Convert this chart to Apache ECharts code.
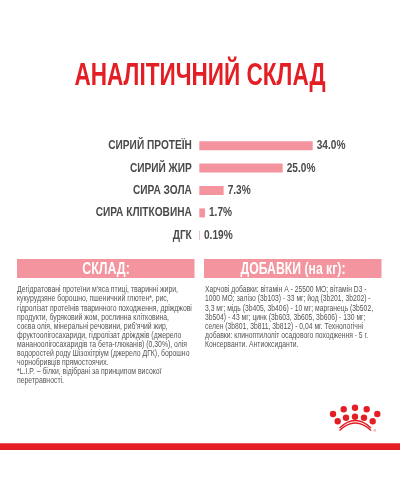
<!DOCTYPE html>
<html>
<head>
<meta charset="utf-8"/>
<title>Аналітичний склад</title>
<style>
    html, body { margin: 0; padding: 0; background: #fff; }
    #chart { width: 400px; height: 500px; }
</style>
</head>
<body>
<div id="chart"></div>
<script src="https://cdn.jsdelivr.net/npm/echarts@6/dist/echarts.min.js"></script>
<script>
var categories = ['СИРИЙ ПРОТЕЇН', 'СИРИЙ ЖИР', 'СИРА ЗОЛА', 'СИРА КЛІТКОВИНА', 'ДГК'];
var values = [34.0, 25.0, 7.3, 1.7, 0.19];
var valueLabels = ['34.0%', '25.0%', '7.3%', '1.7%', '0.19%'];

var leftLines = [
    "Дегідратовані протеїни м'яса птиці, тваринні жири,",
    'кукурудзяне борошно, пшеничний глютен*, рис,',
    'гідролізат протеїнів тваринного походження, дріжджові',
    'продукти, буряковий жом, рослинна клітковина,',
    "соєва олія, мінеральні речовини, риб'ячий жир,",
    'фруктоолігосахариди, гідролізат дріжджів (джерело',
    'мананоолігосахаридів та бета-глюканів) (0,30%), олія',
    'водоростей роду Шізохітріум (джерело ДГК), борошно',
    'чорнобривців прямостоячих.',
    '*L.I.P. – білки, відібрані за принципом високої',
    'перетравності.'
];
var rightLines = [
    'Харчові добавки: вітамін А - 25500 МО; вітамін D3 -',
    '1000 МО; залізо (3b103) - 33 мг; йод (3b201, 3b202) -',
    '3,3 мг; мідь (3b405, 3b406) - 10 мг; марганець (3b502,',
    '3b504) - 43 мг; цинк (3b603, 3b605, 3b606) - 130 мг;',
    'селен (3b801, 3b811, 3b812) - 0,04 мг. Технологічні',
    'добавки: клиноптилоліт осадового походження - 5 г.',
    'Консерванти. Антиоксиданти.'
];

var RED = '#e31e24';
var PINK = '#f3949f';
var DARK = '#4a4a4a';
var FONT = '"Liberation Sans", sans-serif';

var myChart = echarts.init(document.getElementById('chart'), null, { renderer: 'canvas' });

// вузький шрифт не встановлений, тому стискаємо текст через scaleX
function textEl(x, y, str, size, color, weight, align, sx) {
    return {
        type: 'text', x: x, y: y, scaleX: sx || 1,
        style: {
            text: str, fill: color, align: align || 'left', verticalAlign: 'middle',
            fontFamily: FONT, fontSize: size, fontWeight: weight || 'normal'
        }
    };
}

var elements = [
    textEl(200, 76.5, 'АНАЛІТИЧНИЙ СКЛАД', 32, RED, 'bold', 'center', 0.705),
    { type: 'rect', shape: { x: 17, y: 259, width: 177.5, height: 19 }, style: { fill: PINK } },
    { type: 'rect', shape: { x: 204, y: 259, width: 177.5, height: 19 }, style: { fill: PINK } },
    textEl(106, 269, 'СКЛАД:', 17, '#fff', 'bold', 'center', 0.73),
    textEl(293, 269, 'ДОБАВКИ (на кг):', 17, '#fff', 'bold', 'center', 0.72),
    { type: 'rect', shape: { x: 0, y: 443.3, width: 400, height: 6.7 }, style: { fill: RED } }
];

leftLines.forEach(function (line, i) {
    elements.push(textEl(17, 290 + i * 9.05, line, 8.8, '#555', 'normal', 'left', 0.78));
});
rightLines.forEach(function (line, i) {
    elements.push(textEl(205, 290 + i * 9.05, line, 8.8, '#555', 'normal', 'left', 0.77));
});

// логотип: корона
[[333, 414], [343.7, 409.3], [355, 407.7], [366.7, 409.3], [377.3, 414],
 [337.7, 421.3], [346, 417.7], [355, 416.7], [364, 417.7], [372.7, 421.3]].forEach(function (p) {
    elements.push({ type: 'circle', shape: { cx: p[0], cy: p[1], r: 3.2 }, style: { fill: RED } });
});
[[430.5, 420.5], [428, 418]].forEach(function (a) {
    elements.push({
        type: 'bezierCurve',
        shape: { x1: 339.5, y1: a[0], x2: 371, y2: a[0], cpx1: 350, cpy1: a[1], cpx2: 360.5, cpy2: a[1] },
        style: { stroke: RED, lineWidth: 1.4, fill: null }
    });
});
elements.push(textEl(374.7, 430.5, '®', 4, RED, 'normal', 'center'));

// підписи категорій і значень: позиції беруться зі шкал через api.coord
function renderLabels(params, api) {
    var i = api.value(0);
    var start = api.coord([0, i]);
    var end = api.coord([values[i], i]);
    return {
        type: 'group',
        children: [
            textStyled(start[0] - 7.5, start[1], categories[i], 'right'),
            textStyled(end[0] + 4, start[1], valueLabels[i], 'left')
        ]
    };
}
function textStyled(x, y, str, align) {
    return {
        type: 'text', x: x, y: y, scaleX: 0.81,
        style: {
            text: str, fill: DARK, align: align, verticalAlign: 'middle',
            fontFamily: FONT, fontSize: 12.5, fontWeight: 'bold'
        }
    };
}

var option = {
    animation: false,
    grid: { left: 199.3, top: 134.5, width: 133.4, height: 112 },
    xAxis: { type: 'value', min: 0, max: 40, show: false },
    yAxis: {
        type: 'category',
        inverse: true,
        data: categories,
        axisLine: { show: false },
        axisTick: { show: false },
        axisLabel: { show: false }
    },
    series: [{
        type: 'bar',
        data: values,
        barWidth: 9,
        itemStyle: { color: PINK }
    }, {
        type: 'custom',
        data: categories.map(function (c, i) { return [i]; }),
        encode: { y: 0 },
        renderItem: renderLabels,
        silent: true
    }],
    graphic: { elements: elements }
};
myChart.setOption(option);
</script>
</body>
</html>
